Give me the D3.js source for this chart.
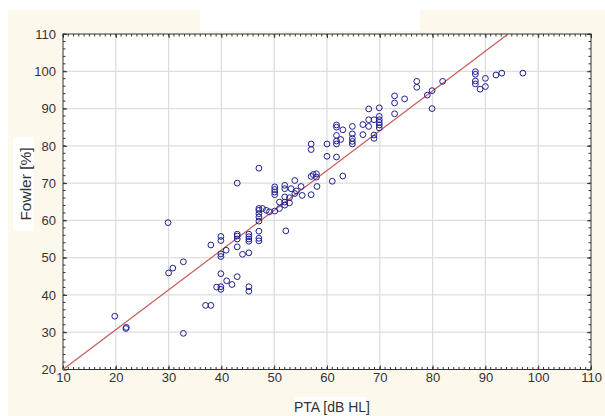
<!DOCTYPE html>
<html><head><meta charset="utf-8">
<script src="https://cdn.jsdelivr.net/npm/d3@7"></script>
<style>
html,body{margin:0;padding:0;background:#fff;}
svg{display:block;}
text{font-family:"Liberation Sans",Arial,sans-serif;}
</style></head>
<body>
<svg id="c" width="605" height="416"></svg>
<script>
// ---- data ----
const ptaValues = [19.8,21.9,22.0,29.9,30.0,30.8,32.8,32.8,37.0,38.0,38.0,
  39.9,39.9,39.9,39.9,40.9,39.9,39.1,39.9,39.9,41.0,42.0,43.0,45.2,45.2,
  43.0,47.1,43.0,43.0,43.0,43.0,44.0,45.2,45.2,45.2,45.2,45.2,
  47.1,47.1,47.1,47.1,47.1,47.1,47.1,47.1,
  47.8,48.5,49.1,50.1,51.0,51.0,50.1,50.1,50.1,50.1,
  52.0,52.0,52.2,52.0,52.0,52.0,52.9,52.9,53.9,53.9,53.2,54.2,55.1,55.3,
  57.0,57.0,57.4,58.0,58.0,58.1,61.0,
  57.0,57.0,60.0,60.0,61.8,61.8,61.8,61.8,61.8,61.8,62.6,63.0,63.0,
  64.8,64.8,64.8,64.8,64.8,66.8,66.8,67.9,67.9,67.9,68.9,68.9,68.9,
  69.9,69.9,69.9,69.9,69.9,69.9,72.8,72.8,72.8,74.7,
  77.0,77.0,79.0,79.9,81.9,79.9,
  88.1,88.1,88.1,88.1,89.0,90.0,90.0,92.0,93.1,97.1];
const fowlerValues = [34.3,31.0,31.3,59.4,45.9,47.2,48.9,29.7,37.2,37.2,53.4,
  55.7,54.6,51.0,50.3,52.0,45.7,42.1,42.2,41.5,43.8,42.8,44.9,42.2,41.0,
  70.0,74.0,56.3,55.8,55.0,52.9,50.9,51.3,56.3,55.6,55.0,54.4,
  57.1,55.2,54.5,59.8,60.9,61.8,62.7,63.2,
  63.2,62.7,62.3,62.5,63.2,64.9,69.0,68.3,67.6,66.9,
  69.4,68.5,57.2,64.1,64.9,66.3,64.7,66.1,70.7,67.2,68.5,67.9,69.1,66.7,
  66.9,71.8,72.3,72.5,71.6,69.1,70.5,
  80.5,79.0,80.5,77.2,77.0,85.6,85.0,82.8,81.3,80.5,81.7,84.3,71.9,
  85.2,83.2,82.0,81.2,80.5,85.7,83.0,89.9,85.2,87.0,87.0,82.9,82.0,
  90.2,87.9,87.0,86.3,85.6,84.8,91.5,88.6,93.4,92.6,
  97.3,95.7,93.6,94.8,97.3,90.0,
  99.9,99.2,97.4,96.6,95.2,98.1,95.9,99.0,99.5,99.5];
const fitX = [10, 94.3];
const fitY = [20, 110];
const xTicks = [10,20,30,40,50,60,70,80,90,100,110];
const yTicks = [20,30,40,50,60,70,80,90,100,110];
const xTitle = "PTA [dB HL]";
const yTitle = "Fowler [%]";

// ---- drawing ----
const svg = d3.select("#c");
const L = 63, R = 591, T = 34, B = 369.5;
const x = d3.scaleLinear().domain([10,110]).range([L,R]);
const y = d3.scaleLinear().domain([20,110]).range([B,T]);

// backgrounds
svg.append("rect").attr("x",0).attr("y",0).attr("width",605).attr("height",416).attr("fill","#fff");
svg.append("rect").attr("x",8).attr("y",10).attr("width",597).attr("height",406).attr("fill","#fdf8ec");
svg.append("rect").attr("x",200).attr("y",10).attr("width",220).attr("height",21).attr("fill","#fff");
svg.append("rect").attr("x",13).attr("y",137).attr("width",21).attr("height",94).attr("fill","#fff");
svg.append("rect").attr("x",295).attr("y",397).attr("width",72).attr("height",19).attr("fill","#fff");
svg.append("rect").attr("x",L).attr("y",T).attr("width",R-L).attr("height",B-T).attr("fill","#fff");

// grid
const grid = svg.append("g").attr("stroke","#dedede").attr("stroke-width",1.3);
grid.selectAll("line.gx").data(xTicks.slice(1,-1)).join("line")
  .attr("x1",d=>x(d)).attr("x2",d=>x(d)).attr("y1",T).attr("y2",B);
grid.selectAll("line.gy").data(yTicks.slice(1,-1)).join("line")
  .attr("x1",L).attr("x2",R).attr("y1",d=>y(d)).attr("y2",d=>y(d));

// minor ticks
const xMinor = d3.range(10,110.01,1), yMinor = d3.range(20,110.01,2);
const tk = svg.append("g").attr("stroke","#333").attr("stroke-width",1);
tk.selectAll(null).data(xMinor).join("line").attr("x1",d=>x(d)).attr("x2",d=>x(d)).attr("y1",B).attr("y2",B-2.5);
tk.selectAll(null).data(xMinor).join("line").attr("x1",d=>x(d)).attr("x2",d=>x(d)).attr("y1",T).attr("y2",T+2.5);
tk.selectAll(null).data(yMinor).join("line").attr("y1",d=>y(d)).attr("y2",d=>y(d)).attr("x1",L).attr("x2",L+2.5);
tk.selectAll(null).data(yMinor).join("line").attr("y1",d=>y(d)).attr("y2",d=>y(d)).attr("x1",R).attr("x2",R-2.5);

// axes
const fontTick = 13;
const gx = svg.append("g").attr("transform",`translate(0,${B})`)
  .call(d3.axisBottom(x).tickValues(xTicks).tickSizeInner(-4).tickSizeOuter(0).tickPadding(3));
const gy = svg.append("g").attr("transform",`translate(${L},0)`)
  .call(d3.axisLeft(y).tickValues(yTicks).tickSizeInner(-4).tickSizeOuter(0).tickPadding(7));
[gx,gy].forEach(g=>{
  g.select(".domain").remove();
  g.selectAll("line").attr("stroke","#333");
  g.selectAll("text").attr("fill","#333").style("font-size",fontTick+"px").style("font-family","'Liberation Sans',Arial,sans-serif");
});
svg.append("g").attr("transform",`translate(0,${T})`)
  .call(d3.axisTop(x).tickValues(xTicks).tickSizeInner(-4).tickSizeOuter(0).tickFormat(""))
  .call(g=>{g.select(".domain").remove(); g.selectAll("line").attr("stroke","#333");});
svg.append("g").attr("transform",`translate(${R},0)`)
  .call(d3.axisRight(y).tickValues(yTicks).tickSizeInner(-4).tickSizeOuter(0).tickFormat(""))
  .call(g=>{g.select(".domain").remove(); g.selectAll("line").attr("stroke","#333");});

// frame
svg.append("rect").attr("x",L).attr("y",T).attr("width",R-L).attr("height",B-T)
  .attr("fill","none").attr("stroke","#333").attr("stroke-width",1);

// fit line
svg.append("line").attr("x1",x(fitX[0])).attr("y1",y(fitY[0])).attr("x2",x(fitX[1])).attr("y2",y(fitY[1]))
  .attr("stroke","#c85a5a").attr("stroke-width",1.2);

// points
const pts = ptaValues.map((v,i)=>({x:v,y:fowlerValues[i]}));
svg.append("g").selectAll("circle").data(pts).join("circle")
  .attr("cx",d=>x(d.x)).attr("cy",d=>y(d.y)).attr("r",2.9)
  .attr("fill","none").attr("stroke","#1f1f8f").attr("stroke-width",1);

// titles
svg.append("text").attr("x",332).attr("y",411.5).attr("text-anchor","middle")
  .attr("fill","#333").style("font-size","14px").text(xTitle);
svg.append("text").attr("transform","translate(31,184) rotate(-90)").attr("text-anchor","middle")
  .attr("fill","#333").style("font-size","15.5px").text(yTitle);
</script>
</body></html>
